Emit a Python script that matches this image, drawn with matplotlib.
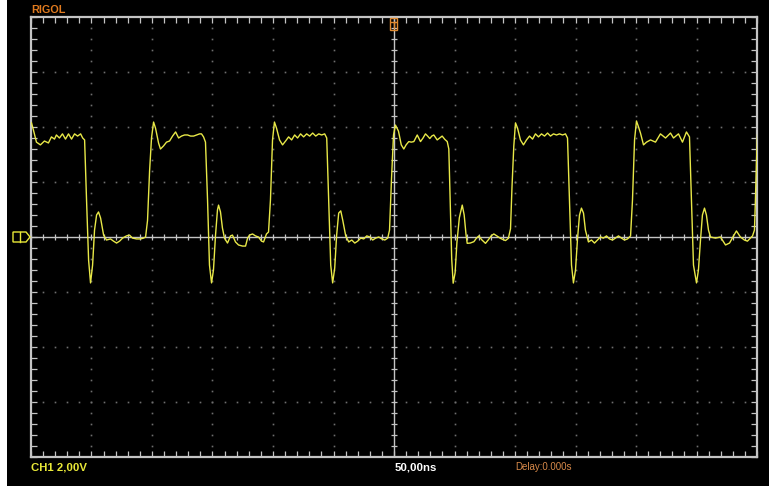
import matplotlib
matplotlib.use("Agg")
import matplotlib.pyplot as plt
from matplotlib.patches import Rectangle, Polygon
import numpy as np

# ---- data: CH1 trace, time in ns, voltage in V ----
t_ns = [
    # first high segment + falling edge + low
    -299.6, -298.0, -295.5, -292.2, -288.9, -285.6, -283.1, -280.6, -279.0, -276.5,
    -274.0, -271.5, -269.0, -266.5, -264.0, -261.5, -259.0, -257.3, -255.7, -254.1,
    -252.4, -250.8, -249.1, -247.5, -245.8, -244.2, -242.5, -240.0, -237.6, -234.3,
    -231.8, -229.3, -226.8, -224.3, -221.1, -218.6, -216.1, -212.8, -209.5, -207.0,
    -205.3, -203.7, -202.0, -200.4, -198.7,
    # cycle 2
    -197.1, -194.6, -193.0, -190.5, -188.0, -185.5, -183.0, -180.5, -178.0, -175.6,
    -173.1, -170.6, -168.1, -165.6, -163.2, -160.7, -159.1, -157.4, -155.8, -154.1,
    -152.5, -150.8, -149.2, -147.5, -145.9, -145.0, -143.4, -141.8, -140.1, -137.6,
    -135.1, -133.5, -131.0, -128.5, -125.2, -122.7, -121.0, -119.4, -116.9, -114.5,
    -112.0, -109.5, -107.8, -105.4, -103.7, -102.1, -100.4, -98.8,
    # cycle 3
    -97.1, -94.6, -92.1, -89.6, -87.1, -84.6, -82.1, -79.7, -77.2, -74.7,
    -72.2, -69.7, -67.2, -64.7, -62.2, -59.8, -57.3, -55.6, -54.0, -52.3,
    -50.7, -49.0, -47.4, -45.7, -44.0, -42.4, -39.9, -37.4, -34.9, -32.4,
    -30.0, -27.5, -25.0, -22.5, -20.0, -17.6, -15.1, -12.6, -10.1, -7.6,
    -5.2, -3.7, -2.1, -0.4,
    # cycle 4
    1.2, 3.7, 6.0, 8.1, 10.0, 12.2, 14.3, 16.4, 19.2, 21.9,
    24.0, 26.0, 27.8, 29.6, 31.2, 32.9, 35.7, 39.8, 42.0, 44.0,
    45.3, 46.5, 47.7, 48.9, 50.5, 52.0, 54.0, 56.4, 58.0, 59.5,
    60.5, 63.0, 66.0, 68.0, 70.1, 72.5, 75.6, 78.0, 80.5, 82.5,
    85.0, 88.0, 92.1, 94.5, 96.3, 97.5, 99.0,
    # cycle 5
    100.4, 102.1, 104.5, 107.0, 109.5, 112.0, 114.5, 116.9, 119.4, 121.9,
    124.4, 126.9, 129.3, 131.8, 134.3, 136.8, 139.3, 141.7, 143.4, 145.0,
    146.7, 148.3, 150.0, 151.6, 153.3, 154.9, 156.6, 158.2, 160.7, 163.2,
    165.7, 168.1, 170.6, 173.1, 175.6, 178.1, 180.6, 183.0, 185.5, 188.0,
    190.5, 193.0, 195.5, 197.1, 198.8,
    # cycle 6
    200.4, 202.1, 203.7, 206.2, 208.7, 212.0, 216.1, 220.2, 224.4, 228.5,
    231.0, 235.1, 238.4, 241.7, 244.2, 245.8, 247.5, 250.0, 251.6, 253.3,
    254.9, 256.6, 258.2, 259.9, 261.6, 265.7, 269.8, 274.0, 277.3, 280.6,
    283.0, 286.3, 289.6, 292.1, 294.6, 296.3, 297.9, 298.7, 299.6, 300.4,
]
v_volts = [
    4.15, 3.89, 3.45, 3.35, 3.49, 3.42, 3.64, 3.56, 3.71, 3.60,
    3.75, 3.56, 3.75, 3.56, 3.75, 3.67, 3.75, 3.60, 3.53, 1.35,
    -0.84, -1.67, -1.02, 0.25, 0.80, 0.91, 0.69, 0.07, -0.11, -0.07,
    -0.15, -0.22, -0.15, -0.04, 0.04, 0.07, -0.04, -0.07, -0.07, -0.04,
    0.00, 0.60, 2.40, 3.60, 4.18,
    # cycle 2
    3.96, 3.42, 3.20, 3.31, 3.45, 3.49, 3.67, 3.82, 3.60, 3.67,
    3.71, 3.71, 3.67, 3.67, 3.71, 3.75, 3.75, 3.64, 3.45, 1.35,
    -1.02, -1.67, -1.20, 0.07, 0.98, 1.16, 0.91, 0.33, -0.04, -0.22,
    0.04, 0.07, -0.18, -0.29, -0.33, -0.33, -0.04, 0.07, 0.11, 0.04,
    0.00, -0.15, -0.18, 0.11, 0.18, 1.35, 3.53, 4.18,
    # cycle 3
    3.96, 3.53, 3.35, 3.49, 3.64, 3.53, 3.71, 3.60, 3.75, 3.64,
    3.75, 3.67, 3.78, 3.67, 3.75, 3.71, 3.75, 3.60, 1.35, -1.02,
    -1.67, -1.13, 0.07, 0.87, 0.95, 0.62, 0.04, -0.18, -0.11, -0.22,
    -0.15, -0.04, -0.07, 0.04, 0.00, -0.11, -0.04, 0.00, -0.07, -0.11,
    -0.04, 0.25, 2.07, 3.71,
    # cycle 4
    4.07, 3.85, 3.35, 3.20, 3.35, 3.47, 3.45, 3.47, 3.71, 3.47,
    3.60, 3.75, 3.67, 3.58, 3.67, 3.71, 3.53, 3.67, 3.55, 3.47,
    3.20, 1.20, -0.80, -1.68, -1.30, -0.20, 0.70, 1.16, 0.80, 0.10,
    -0.23, -0.22, -0.17, -0.05, 0.04, -0.10, -0.23, -0.10, 0.05, 0.11,
    0.04, -0.05, -0.13, -0.05, 0.30, 1.80, 3.30,
    # cycle 5
    4.15, 3.96, 3.53, 3.35, 3.53, 3.67, 3.56, 3.75, 3.64, 3.75,
    3.67, 3.78, 3.67, 3.75, 3.71, 3.75, 3.71, 3.75, 3.60, 1.35,
    -1.02, -1.67, -1.20, -0.11, 0.80, 1.05, 0.87, 0.25, -0.18, -0.11,
    -0.22, -0.11, 0.00, -0.04, 0.04, -0.07, -0.11, -0.04, 0.04, -0.04,
    -0.11, -0.07, 0.04, 1.35, 3.53,
    # cycle 6
    4.22, 4.00, 3.78, 3.35, 3.45, 3.53, 3.45, 3.75, 3.60, 3.78,
    3.60, 3.75, 3.45, 3.82, 3.64, 1.35, -1.02, -1.67, -1.20, -0.11,
    0.80, 1.05, 0.80, 0.25, 0.00, -0.04, 0.00, -0.29, -0.22, 0.04,
    0.22, 0.00, -0.11, -0.15, -0.04, 0.04, 0.25, 1.35, 2.80, 3.71,
]

header_label = "RIGOL"
channel_label = "CH1 2,00V"
timebase_label = "50,00ns"
delay_label = "Delay:0.000s"

NS_PER_DIV = 50.0
V_PER_DIV = 2.0
H_DIVS = 12
V_DIVS = 8

W, H = 769, 486
fig = plt.figure(figsize=(W / 100, H / 100), dpi=100, facecolor="black")

# white strip on left edge
fig.add_artist(Rectangle((0, 0), 7 / W, 1, transform=fig.transFigure,
                         facecolor="white", edgecolor="none"))

x0, x1, y0, y1 = 31, 757, 17, 457
ax = fig.add_axes([x0 / W, 1 - y1 / H, (x1 - x0) / W, (y1 - y0) / H])
ax.set_facecolor("black")
xmax = H_DIVS / 2 * NS_PER_DIV
ymax = V_DIVS / 2 * V_PER_DIV
ax.set_xlim(-xmax, xmax)
ax.set_ylim(-ymax, ymax)

grid_col = "#6e6e6e"
frame_col = "#c4c4c4"

# dotted grid
xs_major = np.arange(-xmax + NS_PER_DIV, xmax, NS_PER_DIV)
ys_major = np.arange(-ymax + V_PER_DIV, ymax, V_PER_DIV)
xs_minor = np.arange(-xmax, xmax + 1e-9, NS_PER_DIV / 5)
ys_minor = np.arange(-ymax, ymax + 1e-9, V_PER_DIV / 5)
for xv in xs_major:
    if abs(xv) < 1e-9:
        continue
    ax.plot(np.full_like(ys_minor, xv), ys_minor, ls="none", marker="s",
            ms=1.2, mew=0, color=grid_col)
for yv in ys_major:
    if abs(yv) < 1e-9:
        continue
    ax.plot(xs_minor, np.full_like(xs_minor, yv), ls="none", marker="s",
            ms=1.2, mew=0, color=grid_col)

# center cross with ticks
ax.axhline(0, color=frame_col, lw=1.0)
ax.axvline(0, color=frame_col, lw=1.0)
ax.plot(xs_minor, np.zeros_like(xs_minor), ls="none", marker="|", ms=5,
        mew=0.9, color=frame_col)
ax.plot(np.zeros_like(ys_minor), ys_minor, ls="none", marker="_", ms=5,
        mew=0.9, color=frame_col)

# border
for s in ax.spines.values():
    s.set_color(frame_col)
    s.set_linewidth(1.6)
ax.set_xticks(xs_minor)
ax.set_yticks(ys_minor)
ax.tick_params(direction="in", length=4, width=0.9, color=frame_col,
               top=True, right=True, labelbottom=False, labelleft=False)

# trace
ax.plot(t_ns, v_volts, color="#e8e848", lw=1.0, zorder=5)

# text
fam = ["Liberation Sans", "DejaVu Sans"]
fig.text(31 / W, 1 - 10 / H, header_label, color="#e07a1e", fontsize=7.8,
         fontweight="bold", family=fam, va="center", ha="left")
fig.text(31 / W, 1 - 467 / H, channel_label, color="#e8e838", fontsize=8.2,
         fontweight="bold", family=fam, va="center", ha="left")
fig.text(395 / W, 1 - 467 / H, timebase_label, color="white", fontsize=8.2,
         fontweight="bold", family=fam, va="center", ha="left")
fig.text(515 / W, 1 - 467 / H, delay_label, color="#d88a4a", fontsize=7.0,
         family=fam, va="center", ha="left")

# trigger marker (top)
cx = 393.5
trig = Rectangle(((cx - 3.5) / W, 1 - 30 / H), 7 / W, 12 / H,
                 transform=fig.transFigure, facecolor="none",
                 edgecolor="#e08a30", lw=1.0)
fig.add_artist(trig)
fig.add_artist(plt.Line2D([(cx - 2) / W, (cx + 2) / W], [1 - 22 / H, 1 - 22 / H],
                          transform=fig.transFigure, color="#e08a30", lw=1.0))
fig.add_artist(plt.Line2D([cx / W, cx / W], [1 - 22 / H, 1 - 28 / H],
                          transform=fig.transFigure, color="#e08a30", lw=1.0))

# ground marker (left)
gy = 237
pts = [(13, gy - 5), (26, gy - 5), (30, gy), (26, gy + 5), (13, gy + 5)]
fig.add_artist(Polygon([(px / W, 1 - py / H) for px, py in pts], closed=True,
                       transform=fig.transFigure, facecolor="none",
                       edgecolor="#e8e838", lw=1.0))
fig.add_artist(plt.Line2D([20 / W, 20 / W], [1 - (gy - 5) / H, 1 - (gy + 5) / H],
                          transform=fig.transFigure, color="#e8e838", lw=1.0))

fig.savefig("out.png", dpi=100, facecolor="black")
